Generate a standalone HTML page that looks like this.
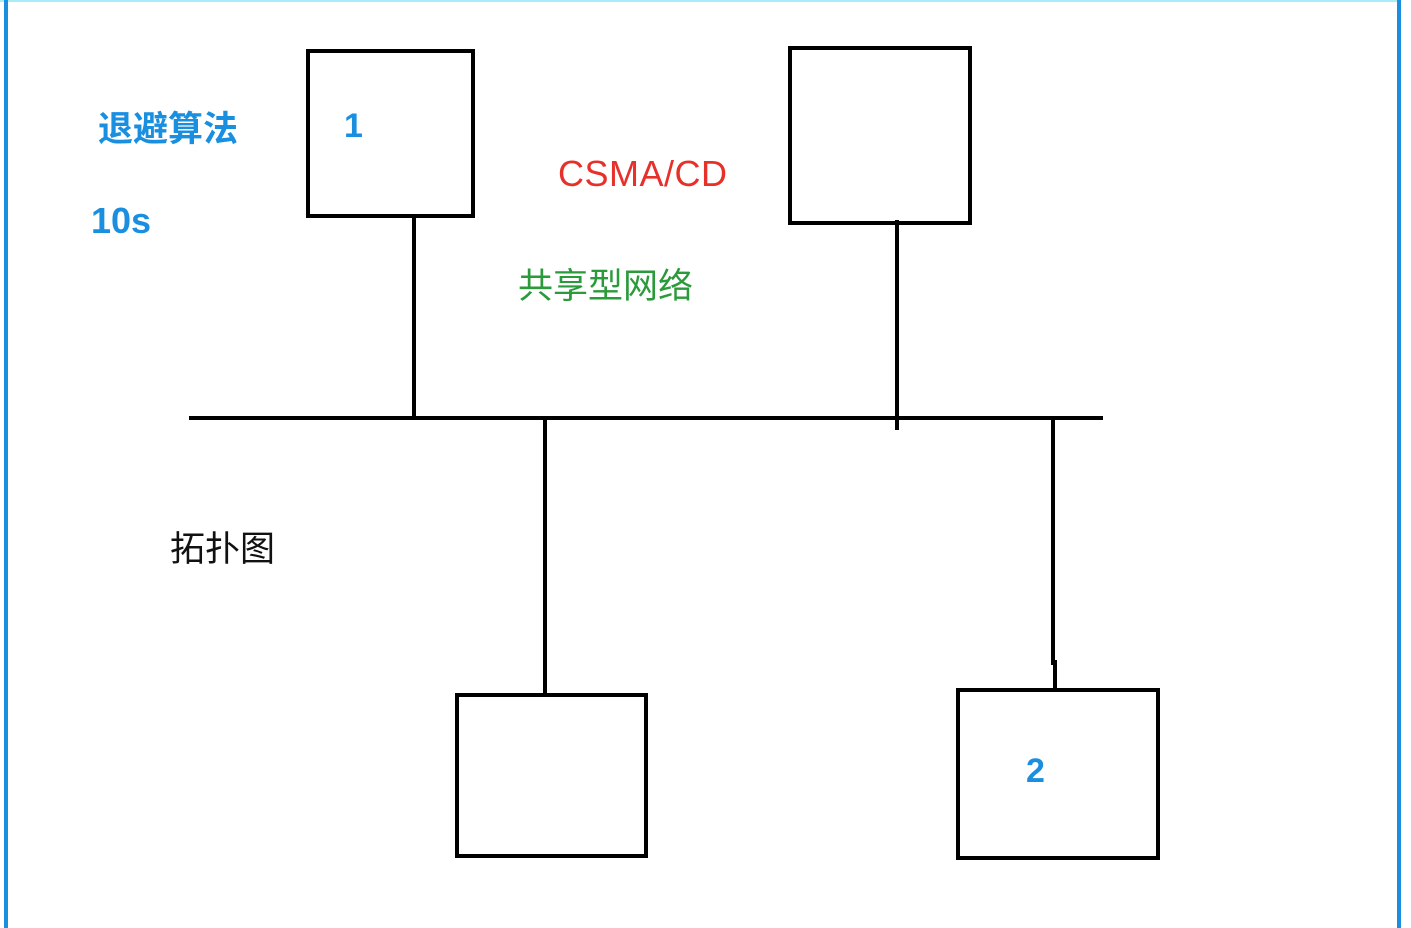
<!DOCTYPE html>
<html><head><meta charset="utf-8"><style>
html,body{margin:0;padding:0;background:#fff;}
svg{display:block;}
text{font-family:"Liberation Sans","Noto Sans CJK SC",sans-serif;}
</style></head><body>
<svg width="1411" height="928" viewBox="0 0 1411 928" xmlns="http://www.w3.org/2000/svg">
<rect width="1411" height="928" fill="#fff"/>
<line x1="0" y1="1" x2="1400" y2="1" stroke="#a8ecf8" stroke-width="2"/>
<rect x="4" y="0" width="4" height="928" fill="#1a8fe0"/>
<rect x="1397" y="0" width="4" height="928" fill="#1a8fe0"/>
<g fill="none" stroke="#000" stroke-width="4">
<rect x="308" y="51" width="165" height="165"/>
<rect x="790" y="48" width="180" height="175"/>
<rect x="457" y="695" width="189" height="161"/>
<rect x="958" y="690" width="200" height="168"/>
<line x1="189" y1="418" x2="1103" y2="418"/>
<line x1="414" y1="216" x2="414" y2="418"/>
<line x1="897" y1="220" x2="897" y2="430"/>
<line x1="545" y1="418" x2="545" y2="695"/>
<line x1="1053" y1="418" x2="1053" y2="665"/>
<line x1="1055" y1="660" x2="1055" y2="690"/>
</g>
<g font-weight="bold" fill="#1a8fe0">
<text x="98" y="141" font-size="35">退避算法</text>
<text x="91" y="233" font-size="36">10s</text>
<text x="344" y="137" font-size="34">1</text>
<text x="1026" y="782" font-size="34">2</text>
</g>
<text x="558" y="186" font-size="36" letter-spacing="0.5" fill="#e8302a">CSMA/CD</text>
<text x="518" y="298" font-size="35" fill="#2a9a3a">共享型网络</text>
<text x="170" y="561" font-size="35" fill="#111">拓扑图</text>
</svg>
</body></html>
